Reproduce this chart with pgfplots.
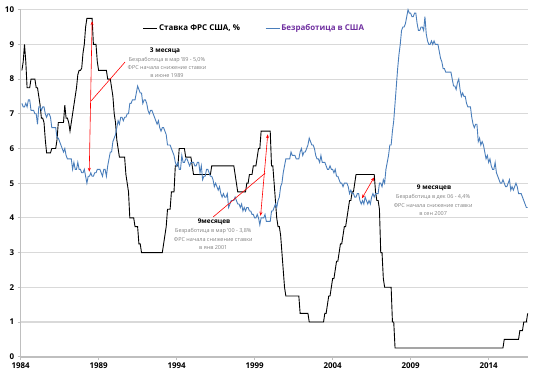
\documentclass[border=0pt]{standalone}
\usepackage{fontspec}
\setmainfont{Open Sans}
\usepackage{pgfplots}
\usepackage{pgfplotstable}
\pgfplotsset{compat=1.18}
\usetikzlibrary{arrows.meta}
\definecolor{unblue}{RGB}{74,126,187}
\definecolor{legpurple}{RGB}{112,48,160}
\definecolor{gridgray}{RGB}{217,217,217}
\definecolor{axgray}{RGB}{191,191,191}
\definecolor{notegray}{RGB}{128,128,128}

\pgfplotstableread[row sep=\\]{
fed\\
8.25\\ 8.5\\ 9.0\\ 8.5\\ 7.75\\ 7.75\\ 7.75\\ 8.0\\ 8.0\\ 8.0\\ 8.0\\ 7.75\\
7.75\\ 7.5\\ 7.25\\ 6.875\\ 6.875\\ 6.75\\ 6.25\\ 5.875\\ 5.875\\ 5.875\\ 5.875\\ 6.0\\
6.0\\ 6.0\\ 6.0\\ 6.25\\ 6.75\\ 6.75\\ 6.75\\ 6.75\\ 6.75\\ 7.25\\ 6.875\\ 6.875\\
6.75\\ 6.5\\ 6.75\\ 7.0\\ 7.25\\ 7.5\\ 7.75\\ 8.125\\ 8.25\\ 8.25\\ 8.3125\\ 8.75\\
9.0\\ 9.5\\ 9.75\\ 9.75\\ 9.75\\ 9.75\\ 9.75\\ 9.0\\ 9.0\\ 9.0\\ 8.5\\ 8.25\\
8.25\\ 8.25\\ 8.25\\ 8.25\\ 8.25\\ 8.25\\ 8.0\\ 8.0\\ 8.0\\ 7.75\\ 7.5\\ 7.0\\
6.75\\ 6.25\\ 6.0\\ 5.75\\ 5.75\\ 5.75\\ 5.75\\ 5.75\\ 5.25\\ 5.0\\ 4.75\\ 4.0\\
4.0\\ 4.0\\ 4.0\\ 3.75\\ 3.75\\ 3.75\\ 3.25\\ 3.25\\ 3.0\\ 3.0\\ 3.0\\ 3.0\\
3.0\\ 3.0\\ 3.0\\ 3.0\\ 3.0\\ 3.0\\ 3.0\\ 3.0\\ 3.0\\ 3.0\\ 3.0\\ 3.0\\
3.0\\ 3.25\\ 3.5\\ 3.75\\ 4.25\\ 4.25\\ 4.25\\ 4.75\\ 4.75\\ 4.75\\ 5.5\\ 5.5\\
5.5\\ 6.0\\ 6.0\\ 6.0\\ 6.0\\ 6.0\\ 5.75\\ 5.75\\ 5.75\\ 5.75\\ 5.75\\ 5.5\\
5.25\\ 5.25\\ 5.25\\ 5.25\\ 5.25\\ 5.25\\ 5.25\\ 5.25\\ 5.25\\ 5.25\\ 5.25\\ 5.25\\
5.25\\ 5.25\\ 5.5\\ 5.5\\ 5.5\\ 5.5\\ 5.5\\ 5.5\\ 5.5\\ 5.5\\ 5.5\\ 5.5\\
5.5\\ 5.5\\ 5.5\\ 5.5\\ 5.5\\ 5.5\\ 5.5\\ 5.5\\ 5.25\\ 5.0\\ 4.75\\ 4.75\\
4.75\\ 4.75\\ 4.75\\ 4.75\\ 4.75\\ 5.0\\ 5.0\\ 5.25\\ 5.25\\ 5.25\\ 5.5\\ 5.5\\
5.5\\ 5.75\\ 6.0\\ 6.0\\ 6.5\\ 6.5\\ 6.5\\ 6.5\\ 6.5\\ 6.5\\ 6.5\\ 6.5\\
5.5\\ 5.5\\ 5.0\\ 4.5\\ 4.0\\ 3.75\\ 3.75\\ 3.5\\ 3.0\\ 2.5\\ 2.0\\ 1.75\\
1.75\\ 1.75\\ 1.75\\ 1.75\\ 1.75\\ 1.75\\ 1.75\\ 1.75\\ 1.75\\ 1.75\\ 1.25\\ 1.25\\
1.25\\ 1.25\\ 1.25\\ 1.25\\ 1.25\\ 1.0\\ 1.0\\ 1.0\\ 1.0\\ 1.0\\ 1.0\\ 1.0\\
1.0\\ 1.0\\ 1.0\\ 1.0\\ 1.0\\ 1.25\\ 1.25\\ 1.5\\ 1.75\\ 1.75\\ 2.0\\ 2.25\\
2.25\\ 2.5\\ 2.75\\ 2.75\\ 3.0\\ 3.25\\ 3.25\\ 3.5\\ 3.75\\ 3.75\\ 4.0\\ 4.25\\
4.5\\ 4.5\\ 4.75\\ 4.75\\ 5.0\\ 5.25\\ 5.25\\ 5.25\\ 5.25\\ 5.25\\ 5.25\\ 5.25\\
5.25\\ 5.25\\ 5.25\\ 5.25\\ 5.25\\ 5.25\\ 5.25\\ 5.25\\ 4.75\\ 4.5\\ 4.5\\ 4.25\\
3.0\\ 3.0\\ 2.25\\ 2.0\\ 2.0\\ 2.0\\ 2.0\\ 2.0\\ 2.0\\ 1.0\\ 1.0\\ 0.25\\
0.25\\ 0.25\\ 0.25\\ 0.25\\ 0.25\\ 0.25\\ 0.25\\ 0.25\\ 0.25\\ 0.25\\ 0.25\\ 0.25\\
0.25\\ 0.25\\ 0.25\\ 0.25\\ 0.25\\ 0.25\\ 0.25\\ 0.25\\ 0.25\\ 0.25\\ 0.25\\ 0.25\\
0.25\\ 0.25\\ 0.25\\ 0.25\\ 0.25\\ 0.25\\ 0.25\\ 0.25\\ 0.25\\ 0.25\\ 0.25\\ 0.25\\
0.25\\ 0.25\\ 0.25\\ 0.25\\ 0.25\\ 0.25\\ 0.25\\ 0.25\\ 0.25\\ 0.25\\ 0.25\\ 0.25\\
0.25\\ 0.25\\ 0.25\\ 0.25\\ 0.25\\ 0.25\\ 0.25\\ 0.25\\ 0.25\\ 0.25\\ 0.25\\ 0.25\\
0.25\\ 0.25\\ 0.25\\ 0.25\\ 0.25\\ 0.25\\ 0.25\\ 0.25\\ 0.25\\ 0.25\\ 0.25\\ 0.25\\
0.25\\ 0.25\\ 0.25\\ 0.25\\ 0.25\\ 0.25\\ 0.25\\ 0.25\\ 0.25\\ 0.25\\ 0.25\\ 0.5\\
0.5\\ 0.5\\ 0.5\\ 0.5\\ 0.5\\ 0.5\\ 0.5\\ 0.5\\ 0.5\\ 0.5\\ 0.5\\ 0.75\\
0.75\\ 0.75\\ 1.0\\ 1.0\\ 1.0\\ 1.25\\
}\fedtab

\pgfplotstableread[row sep=\\]{
un\\
7.3\\ 7.2\\ 7.2\\ 7.3\\ 7.2\\ 7.4\\ 7.4\\ 7.1\\ 7.1\\ 7.1\\ 7.0\\ 7.0\\
6.7\\ 7.2\\ 7.2\\ 7.1\\ 7.2\\ 7.2\\ 7.0\\ 6.9\\ 7.0\\ 7.0\\ 6.9\\ 6.6\\
6.6\\ 6.6\\ 6.6\\ 6.3\\ 6.3\\ 6.2\\ 6.1\\ 6.0\\ 5.9\\ 6.0\\ 5.8\\ 5.7\\
5.7\\ 5.7\\ 5.7\\ 5.4\\ 5.6\\ 5.4\\ 5.4\\ 5.6\\ 5.4\\ 5.4\\ 5.3\\ 5.3\\
5.4\\ 5.2\\ 5.0\\ 5.2\\ 5.2\\ 5.3\\ 5.2\\ 5.2\\ 5.3\\ 5.3\\ 5.4\\ 5.4\\
5.4\\ 5.3\\ 5.2\\ 5.4\\ 5.4\\ 5.2\\ 5.5\\ 5.7\\ 5.9\\ 5.9\\ 6.2\\ 6.3\\
6.4\\ 6.6\\ 6.8\\ 6.7\\ 6.9\\ 6.9\\ 6.8\\ 6.9\\ 6.9\\ 7.0\\ 7.0\\ 7.3\\
7.3\\ 7.4\\ 7.4\\ 7.4\\ 7.6\\ 7.8\\ 7.7\\ 7.6\\ 7.6\\ 7.3\\ 7.4\\ 7.4\\
7.3\\ 7.1\\ 7.0\\ 7.1\\ 7.1\\ 7.0\\ 6.9\\ 6.8\\ 6.7\\ 6.8\\ 6.6\\ 6.5\\
6.6\\ 6.6\\ 6.5\\ 6.4\\ 6.1\\ 6.1\\ 6.1\\ 6.0\\ 5.9\\ 5.8\\ 5.6\\ 5.5\\
5.6\\ 5.4\\ 5.4\\ 5.8\\ 5.6\\ 5.6\\ 5.7\\ 5.7\\ 5.6\\ 5.5\\ 5.6\\ 5.6\\
5.6\\ 5.5\\ 5.5\\ 5.6\\ 5.6\\ 5.3\\ 5.5\\ 5.1\\ 5.2\\ 5.2\\ 5.4\\ 5.4\\
5.3\\ 5.2\\ 5.2\\ 5.1\\ 4.9\\ 5.0\\ 4.9\\ 4.8\\ 4.9\\ 4.7\\ 4.6\\ 4.7\\
4.6\\ 4.6\\ 4.7\\ 4.3\\ 4.4\\ 4.5\\ 4.5\\ 4.5\\ 4.6\\ 4.5\\ 4.4\\ 4.4\\
4.3\\ 4.4\\ 4.2\\ 4.3\\ 4.2\\ 4.3\\ 4.3\\ 4.2\\ 4.2\\ 4.1\\ 4.1\\ 4.0\\
4.0\\ 4.1\\ 4.0\\ 3.8\\ 4.0\\ 4.0\\ 4.0\\ 4.1\\ 3.9\\ 3.9\\ 3.9\\ 3.9\\
4.2\\ 4.2\\ 4.3\\ 4.4\\ 4.3\\ 4.5\\ 4.6\\ 4.9\\ 5.0\\ 5.3\\ 5.5\\ 5.7\\
5.7\\ 5.7\\ 5.7\\ 5.9\\ 5.8\\ 5.8\\ 5.8\\ 5.7\\ 5.7\\ 5.7\\ 5.9\\ 6.0\\
5.8\\ 5.9\\ 5.9\\ 6.0\\ 6.1\\ 6.3\\ 6.2\\ 6.1\\ 6.1\\ 6.0\\ 5.8\\ 5.7\\
5.7\\ 5.6\\ 5.8\\ 5.6\\ 5.6\\ 5.6\\ 5.5\\ 5.4\\ 5.4\\ 5.5\\ 5.4\\ 5.4\\
5.3\\ 5.4\\ 5.2\\ 5.2\\ 5.1\\ 5.0\\ 5.0\\ 4.9\\ 5.0\\ 5.0\\ 5.0\\ 4.9\\
4.7\\ 4.8\\ 4.7\\ 4.7\\ 4.6\\ 4.6\\ 4.7\\ 4.7\\ 4.5\\ 4.4\\ 4.5\\ 4.4\\
4.6\\ 4.5\\ 4.4\\ 4.5\\ 4.4\\ 4.6\\ 4.7\\ 4.6\\ 4.7\\ 4.7\\ 4.7\\ 5.0\\
5.0\\ 4.9\\ 5.1\\ 5.0\\ 5.4\\ 5.6\\ 5.8\\ 6.1\\ 6.1\\ 6.5\\ 6.8\\ 7.3\\
7.8\\ 8.3\\ 8.7\\ 9.0\\ 9.4\\ 9.5\\ 9.5\\ 9.6\\ 9.8\\ 10.0\\ 9.9\\ 9.9\\
9.8\\ 9.8\\ 9.9\\ 9.9\\ 9.6\\ 9.4\\ 9.4\\ 9.5\\ 9.5\\ 9.4\\ 9.8\\ 9.3\\
9.1\\ 9.0\\ 9.0\\ 9.1\\ 9.0\\ 9.1\\ 9.0\\ 9.0\\ 9.0\\ 8.8\\ 8.6\\ 8.5\\
8.3\\ 8.3\\ 8.2\\ 8.2\\ 8.2\\ 8.2\\ 8.2\\ 8.0\\ 7.8\\ 7.8\\ 7.7\\ 7.9\\
8.0\\ 7.7\\ 7.5\\ 7.6\\ 7.5\\ 7.5\\ 7.3\\ 7.2\\ 7.2\\ 7.2\\ 6.9\\ 6.7\\
6.6\\ 6.7\\ 6.7\\ 6.2\\ 6.3\\ 6.1\\ 6.2\\ 6.1\\ 5.9\\ 5.7\\ 5.8\\ 5.6\\
5.7\\ 5.5\\ 5.4\\ 5.4\\ 5.6\\ 5.3\\ 5.2\\ 5.1\\ 5.0\\ 5.0\\ 5.1\\ 5.0\\
4.9\\ 4.9\\ 5.0\\ 5.1\\ 4.8\\ 4.9\\ 4.8\\ 4.9\\ 5.0\\ 4.9\\ 4.7\\ 4.7\\
4.7\\ 4.6\\ 4.5\\ 4.4\\ 4.3\\ 4.3\\
}\untab

\begin{document}
\begin{tikzpicture}
\useasboundingbox (-20.6bp,-21.3bp) rectangle (515.4bp,356.7bp);
\begin{axis}[
  scale only axis,
  width=507.7bp, height=347bp,
  xmin=-1, xmax=389.5,
  ymin=0, ymax=10,
  xtick={-1,59,119,179,239,299,359},
  xticklabels={1984,1989,1994,1999,2004,2009,2014},
  ytick={0,1,...,10},
  /pgf/number format/assume math mode=true,
  tick label style={font=\bfseries\fontsize{8}{9}\selectfont, text=black},
  axis x line*=bottom, axis y line*=left,
  axis line style={axgray, line width=1.6bp},
  tick align=outside, major tick length=3bp,
  tick style={axgray, line width=0.8bp},
  ymajorgrids, major grid style={gridgray, line width=1.1bp},
  clip=false,
  legend columns=2,
  legend image code/.code={\draw[#1] (0bp,0bp) -- (14bp,0bp);},
  legend style={draw=none, fill=none, at={(0.46,0.947)}, anchor=center,
    font=\bfseries\fontsize{8}{9}\selectfont,
    /tikz/every even column/.append style={column sep=24bp},
    nodes={inner sep=1.2bp}},
]
\addplot[black, line width=0.9bp] table[x expr=\coordindex, y=fed] {\fedtab};
\addlegendentry{Ставка ФРС США, \%}
\addplot[unblue, line width=0.9bp] table[x expr=\coordindex, y=un] {\untab};
\addlegendentry{\textcolor{legpurple}{Безработица в США}}

% annotation 1
\draw[red, line width=0.6bp, {Stealth[length=4bp,width=3bp]}-{Stealth[length=4bp,width=3bp]}] (axis cs:51.8,5.33) -- (axis cs:54.0,9.67);
\draw[red, line width=0.6bp] (axis cs:53.2,7.37) -- (axis cs:79.3,8.49);
\node[font=\bfseries\fontsize{6.5}{7}\selectfont] at (axis cs:110.1,8.81) {3 месяца};
\node[font=\fontsize{5.5}{6}\selectfont, text=notegray] at (axis cs:111.6,8.55) {Безработица в мар '89 - 5,0\%};
\node[font=\fontsize{5.5}{6}\selectfont, text=notegray] at (axis cs:111.6,8.33) {ФРС начала снижение ставки};
\node[font=\fontsize{5.5}{6}\selectfont, text=notegray] at (axis cs:111.6,8.10) {в июне 1989};

% annotation 2
\draw[red, line width=0.6bp, {Stealth[length=4bp,width=3bp]}-{Stealth[length=4bp,width=3bp]}] (axis cs:183.6,4.06) -- (axis cs:189.1,6.41);
\draw[red, line width=0.6bp] (axis cs:147.2,4.03) -- (axis cs:187.1,5.29);
\node[font=\bfseries\fontsize{6.5}{7}\selectfont] at (axis cs:147.8,3.88) {9месяцев};
\node[font=\fontsize{5.5}{6}\selectfont, text=notegray] at (axis cs:147.2,3.62) {Безработица в мар '00 - 3,8\%};
\node[font=\fontsize{5.5}{6}\selectfont, text=notegray] at (axis cs:147.2,3.39) {ФРС начала снижение ставки};
\node[font=\fontsize{5.5}{6}\selectfont, text=notegray] at (axis cs:147.2,3.16) {в янв 2001};

% annotation 3
\draw[red, line width=0.6bp, {Stealth[length=4bp,width=3bp]}-{Stealth[length=4bp,width=3bp]}] (axis cs:261.5,4.56) -- (axis cs:270.9,5.17);
\node[font=\bfseries\fontsize{6.5}{7}\selectfont] at (axis cs:317,4.86) {9 месяцев};
\node[font=\fontsize{5.5}{6}\selectfont, text=notegray] at (axis cs:316.3,4.59) {Безработица в дек 06 - 4,4\%};
\node[font=\fontsize{5.5}{6}\selectfont, text=notegray] at (axis cs:316.3,4.35) {ФРС начала снижение ставки};
\node[font=\fontsize{5.5}{6}\selectfont, text=notegray] at (axis cs:316.3,4.12) {в сен 2007};
\end{axis}
\end{tikzpicture}
\end{document}
